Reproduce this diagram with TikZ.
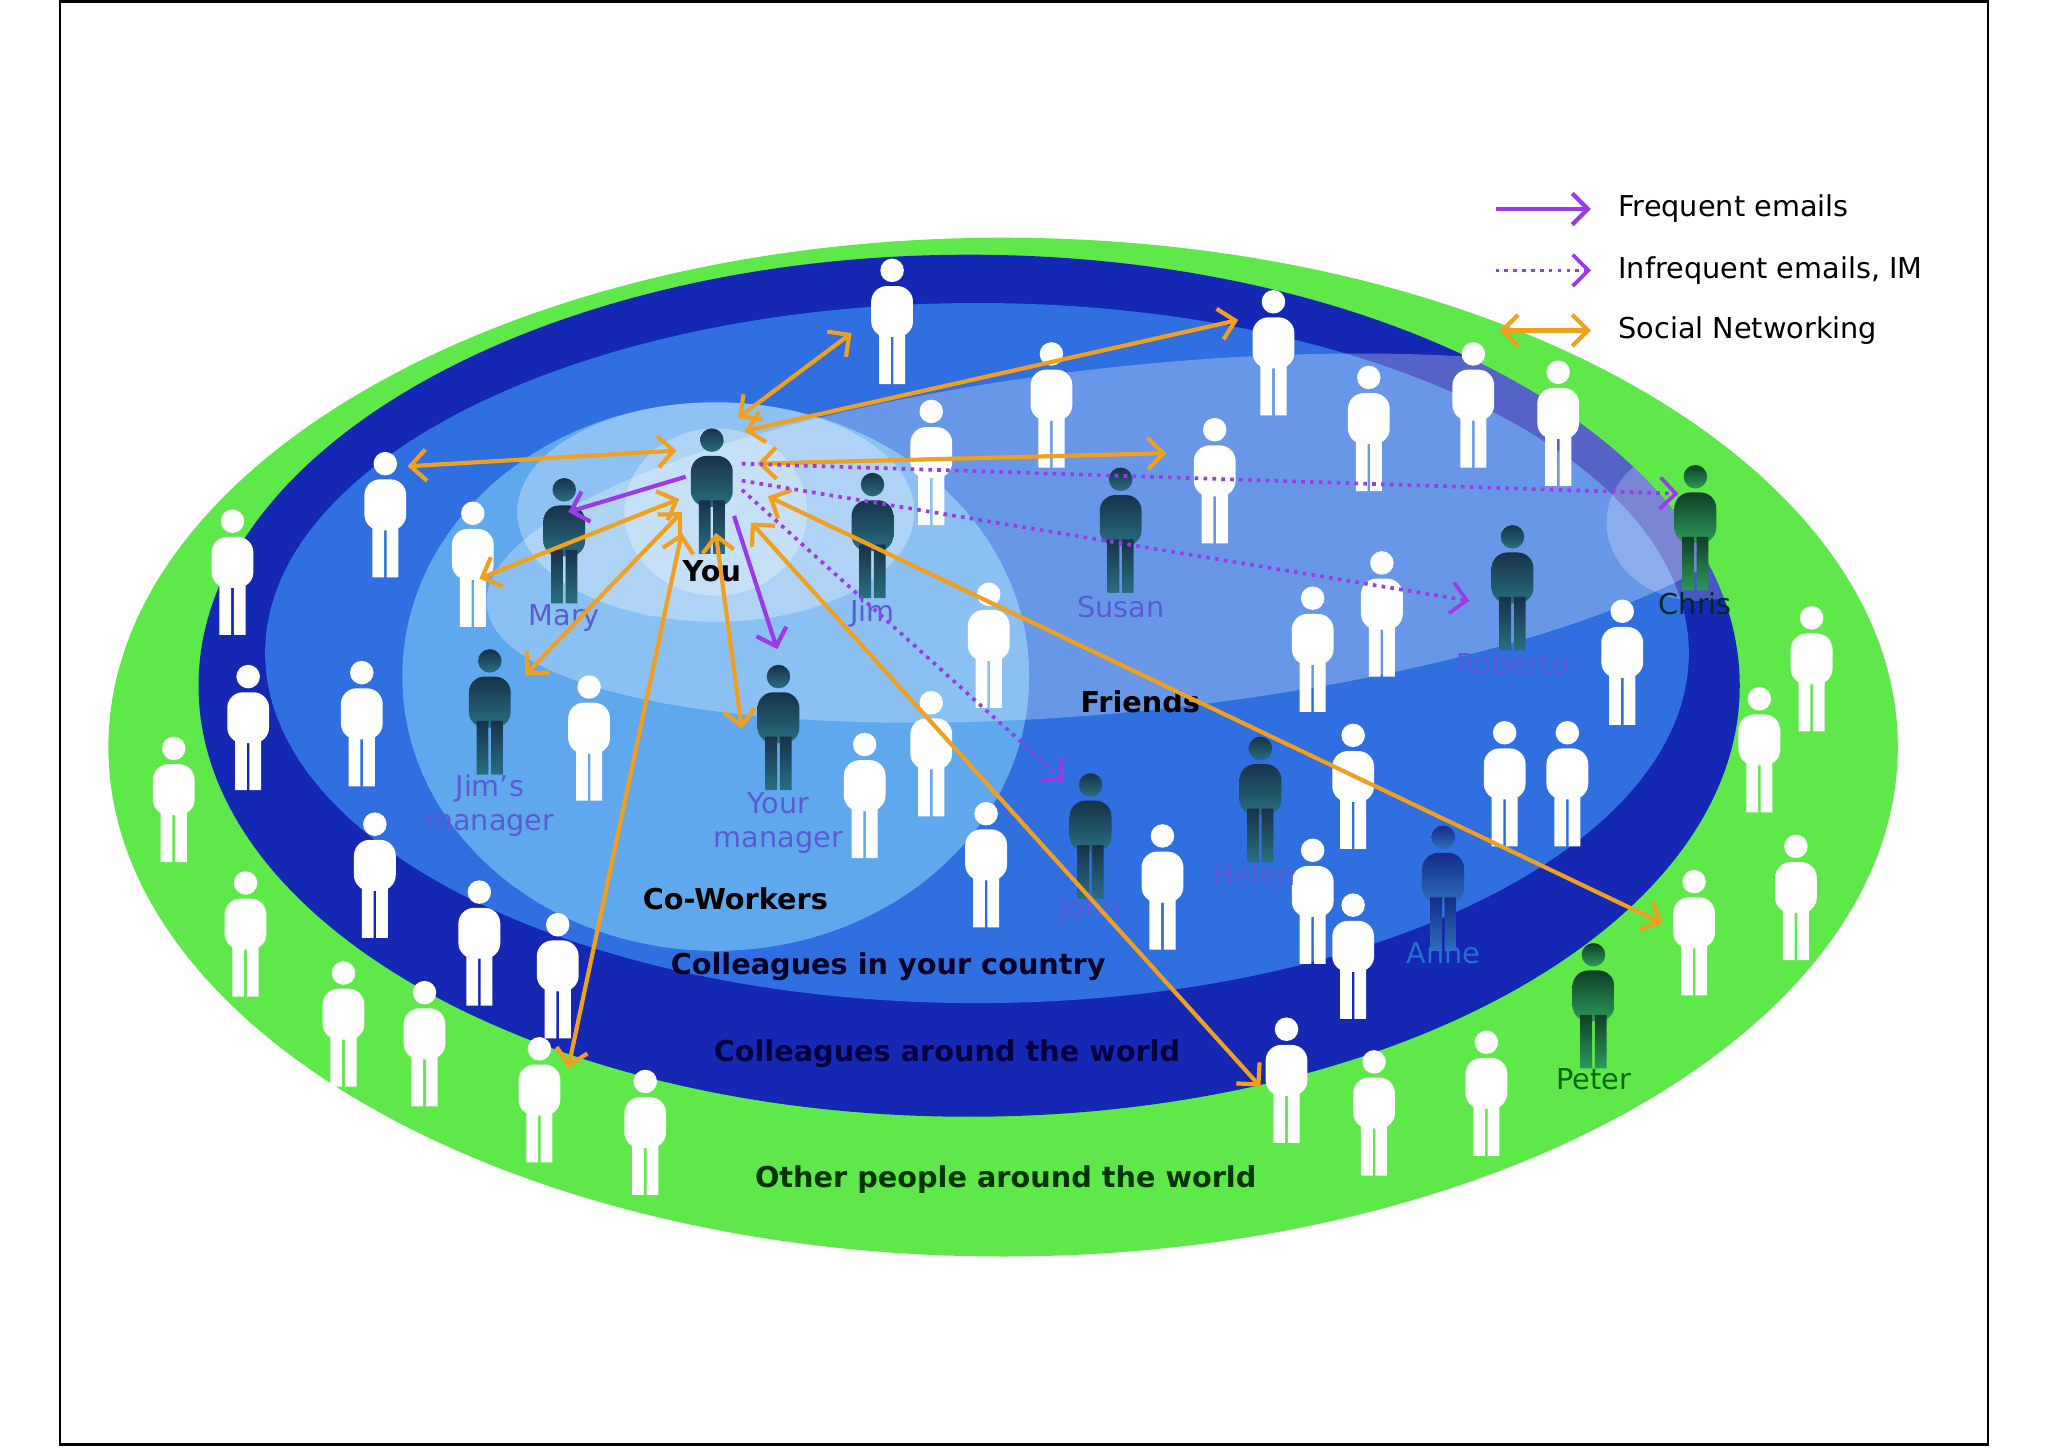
\documentclass[tikz,border=0pt]{standalone}
\usepackage{fontspec}
\setmainfont{DejaVu Sans}
\usetikzlibrary{arrows.meta}
\definecolor{gr}{HTML}{5EE84A}
\definecolor{db}{HTML}{1428B4}
\definecolor{mb}{HTML}{2F6FE0}
\definecolor{lb}{HTML}{5FA8EE}
\definecolor{or}{HTML}{F0A020}
\definecolor{pu}{HTML}{9B3BE8}
\definecolor{nm}{HTML}{5B5BD6}
\definecolor{dt}{HTML}{17324A}
\definecolor{lt}{HTML}{2A6E80}
\definecolor{dg}{HTML}{0F3F28}
\definecolor{lg}{HTML}{2C9A58}
\begin{document}
\begin{tikzpicture}[x=0.5pt,y=-0.5pt,
  pfill/.style={fill=white},
  person/.pic={
    \path[pfill] (0,9) circle (9);
    \path[pfill,rounded corners=6] (-16,21) rectangle (16,60);
    \path[pfill] (-10,55) rectangle (-1,96) (1,55) rectangle (10,96);
  },
  dark/.style={pfill/.style={top color=dt, bottom color=lt}},
  green/.style={pfill/.style={top color=dg, bottom color=lg}},
  dim/.style={pfill/.style={top color=db!60!dt, bottom color=mb!60!lt}},
  nm/.style={font=\fontsize{11}{13}\selectfont, text=nm, align=center},
  rg/.style={font=\bfseries\fontsize{11}{13}\selectfont},
  soc/.style={or, line width=1.6pt, {Straight Barb[length=6pt]}-{Straight Barb[length=6pt]}},
  fe/.style={pu, line width=1.6pt, -{Straight Barb[length=6pt]}},
  ie/.style={pu, line width=1.4pt, dotted, -{Straight Barb[length=6pt]}}]
\useasboundingbox (0,0) rectangle (1568,1108);
\fill[white] (0,0) rectangle (1568,1108);
\draw[line width=1pt] (46,1) rectangle (1522,1106);
% regions
\fill[gr] (768,572) ellipse [x radius=342.5pt, y radius=195pt];
\fill[db] (742,525) ellipse [x radius=295pt, y radius=165pt];
\fill[mb] (748,500) ellipse [x radius=272.5pt, y radius=134pt];
\fill[lb] (548,518) ellipse [x radius=120pt, y radius=105pt];
\begin{scope}
\clip (742,525) ellipse [x radius=295pt, y radius=165pt];
\fill[white,opacity=.28] (870,412) ellipse [x radius=250pt, y radius=66pt, rotate=6];
\fill[white,opacity=.22] (1300,400) ellipse [x radius=35pt, y radius=30pt];
\end{scope}
\fill[white,opacity=.3] (548,392) ellipse [x radius=76pt, y radius=42pt];
\fill[white,opacity=.3] (548,392) ellipse [x radius=35pt, y radius=32pt];
% white people
\foreach \x/\y in {683/198,975/222,805/262,1048/280,1128/262,1193/276,713/306,930/320,295/346,362/384,178/390,757/446,1058/422,1005/449,1242/459,1387/464,190/509,277/506,451/517,1347/526,133/564,662/561,713/529,1036/554,1152/552,1200/552,287/622,755/614,890/631,1005/642,1297/666,1375/639,188/667,367/674,427/699,1036/684,263/736,325/751,985/779,413/794,494/819,1052/804,1138/789}
  \pic at (\x,\y) {person};
% named people
\pic[dark] at (545,328) {person};
\pic[dark] at (432,366) {person};
\pic[dark] at (668,362) {person};
\pic[dark] at (858,358) {person};
\pic[dark] at (1158,402) {person};
\pic[green] at (1298,356) {person};
\pic[dark] at (375,497) {person};
\pic[dark] at (596,509) {person};
\pic[dark] at (835,592) {person};
\pic[dark] at (965,564) {person};
\pic[dim] at (1105,632) {person};
\pic[green] at (1220,722) {person};
% labels
\node[rg] (lyou) at (545,437) {You};
\node[nm] (lmary) at (432,473) {Mary};
\node[nm] (ljim) at (668,470) {Jim};
\node[nm] (lsusan) at (858,465) {Susan};
\node[nm] (lrob) at (1158,508) {Roberto};
\node[nm,text=black!70!teal] (lchris) at (1298,462) {Chris};
\node[nm] (ljm) at (375,617) {Jim's\\manager};
\node[nm] (lym) at (596,630) {Your\\manager};
\node[nm] (ljohn) at (835,697) {John};
\node[nm] (lhelen) at (960,670) {Helen};
\node[nm,text=mb!80!teal] (lanne) at (1105,730) {Anne};
\node[nm,text=black!60!green] (lpeter) at (1220,826) {Peter};
\node[rg] (rf) at (873,537) {Friends};
\node[rg] (rc) at (563,688) {Co-Workers};
\node[rg,text=black!85!blue] (rcc) at (680,740) {Colleagues in your country};
\node[rg,text=black!75!blue] (rcw) at (725,807) {Colleagues around the world};
\node[rg,text=black!80!green] (ro) at (770,903) {Other people around the world};
% connectors
\coordinate (yl) at (518,345);
\coordinate (a1) at (312,357); \coordinate (a2) at (652,255); \coordinate (a3) at (948,245);
\coordinate (a4) at (893,347); \coordinate (a5) at (367,443); \coordinate (a6) at (402,517);
\coordinate (a7) at (568,558); \coordinate (a8) at (435,818); \coordinate (a9) at (965,832);
\coordinate (a10) at (1273,707);
\coordinate (s1) at (565,320); \coordinate (s2) at (570,330); \coordinate (s3) at (580,355);
\coordinate (s5) at (520,382); \coordinate (s6) at (522,392); \coordinate (s7) at (548,408);
\coordinate (s8) at (522,408); \coordinate (s9) at (575,400); \coordinate (s10) at (588,380);
\draw[soc] (yl) -- (a1);
\draw[soc] (s1) -- (a2);
\draw[soc] (s2) -- (a3);
\draw[soc] (s3) -- (a4);
\draw[soc] (s5) -- (a5);
\draw[soc] (s6) -- (a6);
\draw[soc] (s7) -- (a7);
\draw[soc] (s8) -- (a8);
\draw[soc] (s9) -- (a9);
\draw[soc] (s10) -- (a10);
\coordinate (f0) at (525,365); \coordinate (f1) at (435,392);
\coordinate (f2) at (562,395); \coordinate (f3) at (595,497);
\draw[fe] (f0) -- (f1);
\draw[fe] (f2) -- (f3);
\coordinate (d0) at (568,355); \coordinate (d1) at (1285,378);
\coordinate (d2) at (568,368); \coordinate (d3) at (1125,460);
\coordinate (d4) at (568,375); \coordinate (d5) at (815,598);
\draw[ie] (d0) -- (d1);
\draw[ie] (d2) -- (d3);
\draw[ie] (d4) -- (d5);
% legend
\coordinate (l1a) at (1145,160); \coordinate (l1b) at (1218,160);
\coordinate (l2a) at (1145,207); \coordinate (l2b) at (1218,207);
\coordinate (l3a) at (1148,253); \coordinate (l3b) at (1218,253);
\draw[fe] (l1a) -- (l1b);
\draw[ie] (l2a) -- (l2b);
\draw[soc] (l3a) -- (l3b);
\node[anchor=west,font=\fontsize{11}{13}\selectfont] (t1) at (1232,160) {Frequent emails};
\node[anchor=west,font=\fontsize{11}{13}\selectfont] (t2) at (1232,207) {Infrequent emails, IM};
\node[anchor=west,font=\fontsize{11}{13}\selectfont] (t3) at (1232,253) {Social Networking};
\end{tikzpicture}
\end{document}
